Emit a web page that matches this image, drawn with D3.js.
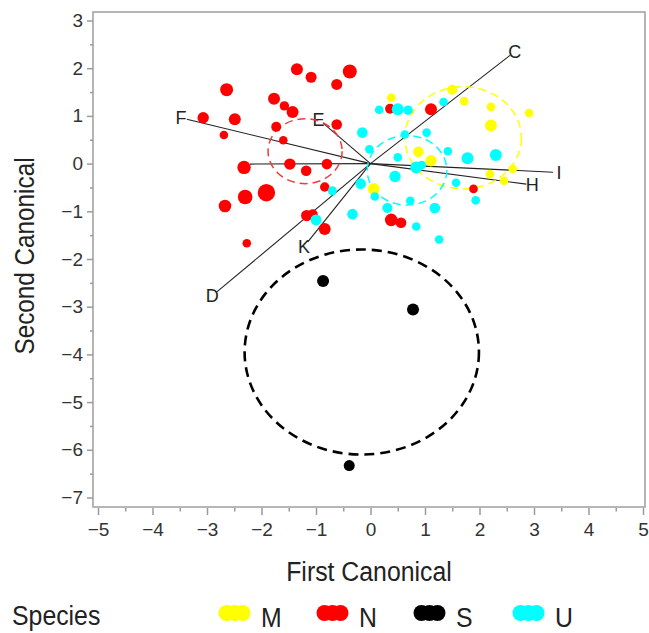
<!DOCTYPE html>
<html>
<head>
<meta charset="utf-8">
<script src="https://cdn.jsdelivr.net/npm/d3@7"></script>
<style>
  body { margin: 0; background: #fff; }
  svg { display: block; }
  text { font-family: "Liberation Sans", Arial, sans-serif; }
</style>
</head>
<body>
<div id="chart"></div>
<script>
// species, colours
const speciesNames = ['M', 'N', 'S', 'U'];
const speciesColors = ['#ffff00', '#ff0000', '#000000', '#00ffff'];

// canonical scores [first, second, size]
const pointsM = [
  [0.38, 1.38, 4.3], [1.50, 1.55, 5], [1.72, 1.31, 4.3], [2.21, 1.19, 4.3],
  [2.91, 1.06, 4.3], [2.21, 0.80, 6], [0.88, 0.25, 5.3], [1.11, 0.06, 5.7],
  [2.61, -0.11, 4.3], [2.19, -0.22, 4.3], [2.45, -0.36, 4.3], [0.06, -0.53, 6]
];
const pointsN = [
  [-1.35, 1.98, 6], [-1.09, 1.81, 5.5], [-0.38, 1.93, 7], [-0.62, 1.66, 5.5],
  [-2.64, 1.55, 6.5], [-1.77, 1.36, 6], [-1.58, 1.21, 4.7], [-1.43, 1.08, 6],
  [-3.07, 0.96, 5.7], [-2.49, 0.93, 6], [-2.69, 0.60, 4.3], [-1.73, 0.77, 5],
  [-0.62, 0.82, 5.3], [-1.60, 0.49, 4.3], [-2.32, -0.08, 6.7], [-1.48, -0.01, 5.7],
  [-1.18, -0.15, 5.3], [-0.80, -0.01, 5.3], [-0.84, -0.49, 4.7], [-2.30, -0.70, 7.3],
  [-1.91, -0.61, 8.7], [-2.67, -0.89, 6.3], [-1.17, -1.09, 5.7], [-1.06, -1.06, 5],
  [-0.84, -1.37, 6], [-2.27, -1.67, 4.3], [0.36, 1.15, 5], [1.11, 1.14, 6],
  [1.89, -0.53, 4.3], [0.38, -1.18, 6.3], [0.56, -1.24, 5.3]
];
const pointsS = [
  [-0.87, -2.46, 6], [0.78, -3.06, 6], [-0.39, -6.33, 5.5]
];
const pointsU = [
  [0.16, 1.13, 4.3], [0.50, 1.14, 6], [0.69, 1.12, 4.7], [1.34, 1.29, 4.3],
  [-0.15, 0.65, 5.3], [-0.02, 0.30, 4.3], [0.63, 0.61, 4.3], [1.03, 0.65, 4.3],
  [1.42, 0.26, 4.3], [0.50, 0.13, 4.3], [1.78, 0.11, 6], [2.30, 0.18, 6],
  [0.84, -0.08, 6], [0.94, -0.03, 4.3], [0.45, -0.27, 5.7], [-0.18, -0.42, 5.3],
  [1.57, -0.40, 4.3], [0.08, -0.69, 4.3], [0.73, -0.78, 4.3], [0.31, -0.93, 5],
  [1.18, -0.93, 5.3], [1.93, -0.77, 4.3], [-0.33, -1.06, 5.3], [-1.00, -1.18, 5.5],
  [0.84, -1.32, 4.3], [1.26, -1.59, 4.3], [-0.70, -0.57, 4.5]
];

// group mean circles
const groupCenterX = [1.70, -1.20, -0.16, 0.67];
const groupCenterY = [0.54, 0.26, -3.95, -0.14];
const groupRadius = [1.07, 0.68, 2.15, 0.73];

// variable vectors
const vectorNames = ['C', 'I', 'H', 'F', 'E', 'D', 'K', ''];
const vectorX = [2.56, 3.35, 2.86, -3.37, -0.87, -2.82, -1.15, -2.21];
const vectorY = [2.27, -0.18, -0.43, 0.93, 0.85, -2.69, -1.64, -0.01];

const xTicks = d3.range(-5, 6);
const yTicks = d3.range(-7, 4);

const width = 649, height = 633;
const frame = {left: 93, right: 645, top: 12, bottom: 507};

const x = d3.scaleLinear().domain([-5, 5]).range([98, 643]);
const y = d3.scaleLinear().domain([3, -7]).range([20.5, 497.5]);
const size = d3.scaleLinear().domain([4, 9]).range([4, 9]);
const color = d3.scaleOrdinal(speciesNames, speciesColors);

const svg = d3.select('#chart').append('svg')
    .attr('width', width)
    .attr('height', height);

svg.append('rect')
    .attr('x', frame.left)
    .attr('y', frame.top)
    .attr('width', frame.right - frame.left)
    .attr('height', frame.bottom - frame.top)
    .attr('fill', 'none')
    .attr('stroke', '#a4a4a4')
    .attr('stroke-width', 1.6);

// axes
const styleAxis = g => {
  g.select('.domain').remove();
  g.selectAll('line').attr('stroke', '#9a9a9a').attr('stroke-width', 1.5);
  g.selectAll('text').attr('font-size', 19).attr('fill', '#333')
    .attr('font-family', '"Liberation Sans", Arial, sans-serif');
};

svg.append('g')
    .attr('transform', 'translate(0,' + (frame.bottom + 1) + ')')
    .call(d3.axisBottom(x).tickValues(xTicks).tickSize(7).tickPadding(8))
    .call(styleAxis);
svg.append('g')
    .attr('transform', 'translate(0,' + (frame.bottom + 1) + ')')
    .call(d3.axisBottom(x).tickValues(xTicks.slice(1).map(d => d - 0.5)).tickSize(3.5).tickFormat(''))
    .call(styleAxis);

svg.append('g')
    .attr('transform', 'translate(' + frame.left + ',0)')
    .call(d3.axisLeft(y).tickValues(yTicks).tickSize(6).tickPadding(4))
    .call(styleAxis);
svg.append('g')
    .attr('transform', 'translate(' + frame.left + ',0)')
    .call(d3.axisLeft(y).tickValues(yTicks.slice(1).map(d => d - 0.5)).tickSize(3).tickFormat(''))
    .call(styleAxis);

svg.append('text')
    .attr('transform', 'translate(' + ((frame.left + frame.right) / 2) + ',581) scale(0.92,1)')
    .attr('text-anchor', 'middle')
    .attr('font-size', 27)
    .attr('fill', '#222')
    .text('First Canonical');

svg.append('text')
    .attr('transform', 'translate(34,' + 256 + ') rotate(-90) scale(0.9,1)')
    .attr('text-anchor', 'middle')
    .attr('font-size', 27)
    .attr('fill', '#222')
    .text('Second Canonical');

// vectors
const vectors = vectorNames.map((n, i) => ({name: n, x: vectorX[i], y: vectorY[i]}));
svg.append('g').selectAll('line')
    .data(vectors)
  .enter().append('line')
    .attr('x1', x(0))
    .attr('y1', y(0))
    .attr('x2', d => x(d.x))
    .attr('y2', d => y(d.y))
    .attr('stroke', '#222')
    .attr('stroke-width', 1.1);

svg.append('g').selectAll('text')
    .data(vectors.filter(d => d.name))
  .enter().append('text')
    .attr('x', d => {
      const dx = x(d.x) - x(0), dy = y(d.y) - y(0), len = Math.hypot(dx, dy);
      return x(d.x) + dx / len * 6;
    })
    .attr('y', d => {
      const dx = x(d.x) - x(0), dy = y(d.y) - y(0), len = Math.hypot(dx, dy);
      return y(d.y) + dy / len * 6;
    })
    .attr('dy', '0.36em')
    .attr('text-anchor', 'middle')
    .attr('font-size', 18)
    .attr('fill', '#222')
    .text(d => d.name);

// group circles
const groups = speciesNames.map((s, i) => ({
  name: s, cx: groupCenterX[i], cy: groupCenterY[i], r: groupRadius[i]
}));
svg.append('g').selectAll('ellipse')
    .data(groups)
  .enter().append('ellipse')
    .attr('cx', d => x(d.cx))
    .attr('cy', d => y(d.cy))
    .attr('rx', d => x(d.r) - x(0))
    .attr('ry', d => y(0) - y(d.r))
    .attr('fill', 'none')
    .attr('stroke', d => d.name === 'N' ? '#f03a3a' : color(d.name))
    .attr('stroke-width', d => d.name === 'S' ? 2.6 : 1.5)
    .attr('stroke-dasharray', d => d.name === 'S' ? '10,6' : '8,5');

// points
const allPoints = [pointsM, pointsN, pointsS, pointsU];
allPoints.forEach((pts, i) => {
  svg.append('g').selectAll('circle')
      .data(pts)
    .enter().append('circle')
      .attr('cx', d => x(d[0]))
      .attr('cy', d => y(d[1]))
      .attr('r', d => size(d[2]))
      .attr('fill', color(speciesNames[i]));
});

// legend
const legend = svg.append('g');
legend.append('text')
    .attr('transform', 'translate(12,625) scale(0.92,1)')
    .attr('font-size', 27)
    .attr('fill', '#222')
    .text('Species');

const legendX = [218, 316, 413, 512];
speciesNames.forEach((s, i) => {
  const g = legend.append('g').attr('transform', 'translate(' + legendX[i] + ',613)');
  [8.5, 16.5, 24.5].forEach(cx => {
    g.append('circle').attr('cx', cx).attr('cy', 0).attr('r', 8).attr('fill', color(s));
  });
  g.append('text')
      .attr('transform', 'translate(43,14) scale(0.92,1)')
      .attr('font-size', 27)
      .attr('fill', '#222')
      .text(s);
});
</script>
</body>
</html>
